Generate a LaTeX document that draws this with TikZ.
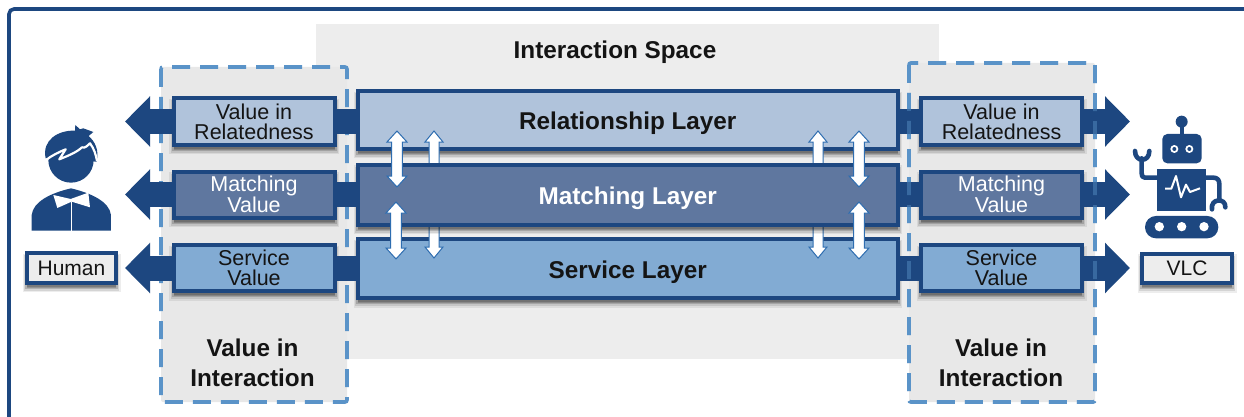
\documentclass[tikz,border=0pt]{standalone}
\usepackage{fontspec}
\setmainfont{Liberation Sans}
\usetikzlibrary{shadows,arrows.meta}
\definecolor{navy}{HTML}{1D4780}
\definecolor{dashblue}{HTML}{5A93C8}
\definecolor{lrel}{HTML}{B0C3DB}
\definecolor{lmat}{HTML}{5F779F}
\definecolor{lser}{HTML}{82ABD3}
\definecolor{spacegrey}{HTML}{EDEDED}
\definecolor{valgrey}{HTML}{E8E8E8}
\definecolor{arrowedge}{HTML}{2E6DB0}
\definecolor{inktext}{HTML}{141414}
\tikzset{
  softshadow/.style={
    general shadow={shadow xshift=0pt,shadow yshift=-5pt,draw=black,fill=black,line width=9pt,opacity=.07},
    general shadow={shadow xshift=0pt,shadow yshift=-5pt,draw=black,fill=black,line width=6pt,opacity=.10},
    general shadow={shadow xshift=0pt,shadow yshift=-4pt,draw=black,fill=black,line width=4pt,opacity=.16}},
  boxbase/.style={draw=navy,line width=4pt,inner sep=0pt,outer sep=0pt,align=center,softshadow,text=inktext},
  valbox/.style={boxbase,minimum width=161pt,minimum height=46pt,font=\fontsize{21.5}{20}\selectfont},
  layerbox/.style={boxbase,minimum width=539.5pt,text height=25pt,text depth=5.5pt,font=\fontsize{24.3}{28}\selectfont\bfseries},
  agentbox/.style={boxbase,fill=spacegrey,minimum height=29.5pt,font=\fontsize{21}{24}\selectfont},
  headline/.style={inner sep=0pt,align=center,text=inktext,font=\fontsize{24.3}{30}\selectfont\bfseries},
  valframe/.style={draw=dashblue,fill=valgrey,line width=3.6pt,dash pattern=on 18pt off 10pt,rounded corners=2pt},
  blockarrow/.style={navy,line width=25pt,-{Triangle[length=25pt,width=49pt]}},
  blockbar/.style={navy,line width=25pt},
  flowarrow/.style={draw=arrowedge,fill=white,line width=1pt,line join=miter},
  iconink/.style={fill=navy,draw=none},
  iconline/.style={draw=navy,line width=4.6pt,line cap=round,line join=round},
  iconcut/.style={draw=white,line join=round}
}
% double-headed flow arrow: x, top tip, bottom tip
\newcommand{\flowboth}[3]{\draw[flowarrow] (#1,#2) -- ++(10,11) -- ++(-4.7,0) -- (#1+5.3,#3-11) -- ++(4.7,0) -- (#1,#3) -- (#1-10,#3-11) -- ++(4.7,0) -- (#1-5.3,#2+11) -- ++(-4.7,0) -- cycle;}
% one visible head pointing up: x, tip, hidden end
\newcommand{\flowup}[3]{\draw[flowarrow] (#1,#2) -- ++(9,11) -- ++(-4,0) -- (#1+5,#3) -- (#1-5,#3) -- (#1-5,#2+11) -- ++(-4,0) -- cycle;}
% one visible head pointing down: x, tip, hidden end
\newcommand{\flowdown}[3]{\draw[flowarrow] (#1,#2) -- ++(9,-11) -- ++(-4,0) -- (#1+5,#3) -- (#1-5,#3) -- (#1-5,#2-11) -- ++(-4,0) -- cycle;}
\begin{document}
\begin{tikzpicture}[x=1pt,y=-1pt]
\useasboundingbox (0,0) rectangle (1244,417);
\fill[white] (0,0) rectangle (1244,417);
% outer frame
\draw[navy,line width=3.6pt,rounded corners=5pt] (9,418) -- (9,9) -- (1245,9);
% backgrounds
\fill[spacegrey] (316,24) rectangle (939,359);
\draw[valframe] (161,67) rectangle (347,402);
\draw[valframe] (909,63) rectangle (1095,402);
\node[headline] (spacetitle) at (615,52) {Interaction Space};
\node[headline] (valleft) at (252.5,363) {Value in\\Interaction};
\node[headline] (valright) at (1001,363) {Value in\\Interaction};
% end coordinates of the block arrows
\coordinate (tipL1) at (125,121.5);
\coordinate (tipL2) at (125,194.5);
\coordinate (tipL3) at (125,268);
\coordinate (tipR1) at (1130,121.5);
\coordinate (tipR2) at (1130,194.5);
\coordinate (tipR3) at (1130,268);
% layers
\node[layerbox,fill=lrel,minimum height=57.4pt] (relL) at (627.75,120) {Relationship Layer};
\node[layerbox,fill=lser,minimum height=58.7pt] (serL) at (627.75,268.7) {Service Layer};
\flowup{434}{131}{166}
\flowdown{434}{258}{224}
\flowup{818}{131}{166}
\flowdown{818}{258}{224}
\node[layerbox,fill=lmat,text=white,minimum height=60pt] (matL) at (627.75,194.7) {Matching Layer};
\flowboth{397}{131}{187}
\flowboth{396}{202}{259}
\flowboth{859}{131}{187}
\flowboth{859}{202}{259}
% value boxes
\node[valbox,fill=lrel] (valL1) at (254,121.5) {Value in\\Relatedness};
\node[valbox,fill=lmat,text=white] (valL2) at (254,194.5) {Matching\\Value};
\node[valbox,fill=lser] (valL3) at (254,268) {Service\\Value};
\node[valbox,fill=lrel] (valR1) at (1001.5,121.5) {Value in\\Relatedness};
\node[valbox,fill=lmat,text=white] (valR2) at (1001.5,194.5) {Matching\\Value};
\node[valbox,fill=lser] (valR3) at (1001.5,268) {Service\\Value};
% agents' labels
\node[agentbox,minimum width=89pt] (human) at (71.5,268) {Human};
\node[agentbox,minimum width=90pt] (vlc) at (1187,268.5) {VLC};
% connectors
\draw[blockbar] (relL.west |- valL1.east) -- (valL1.east);
\draw[blockbar] (matL.west |- valL2.east) -- (valL2.east);
\draw[blockbar] (serL.west |- valL3.east) -- (valL3.east);
\draw[blockbar] (relL.east |- valR1.west) -- (valR1.west);
\draw[blockbar] (matL.east |- valR2.west) -- (valR2.west);
\draw[blockbar] (serL.east |- valR3.west) -- (valR3.west);
\draw[blockarrow] (valL1.west) -- (tipL1);
\draw[blockarrow] (valL2.west) -- (tipL2);
\draw[blockarrow] (valL3.west) -- (tipL3);
\draw[blockarrow] (valR1.east) -- (tipR1);
\draw[blockarrow] (valR2.east) -- (tipR2);
\draw[blockarrow] (valR3.east) -- (tipR3);
% the right-hand dashes show faintly through the connectors
\draw[valframe,fill=none,draw opacity=.45] (909,63) rectangle (1095,402);
% human icon
\begin{scope}[shift={(0,60)},x=.3333pt,y=-.3333pt]
  \fill[iconink] (213,300) circle[radius=68];
  \fill[iconink] (137,295) .. controls (125,240) and (175,210) .. (225,212) -- (226,195) -- (240,208) -- (250,205) -- (280,216) -- (266,228) .. controls (285,245) and (298,270) .. (290,305) -- cycle;
  \draw[iconcut,line width=2.2pt] (138,300) .. controls (155,287) and (175,277) .. (197,268) -- (178,298) .. controls (205,287) and (230,277) .. (246,262) .. controls (256,266) and (264,255) .. (270,250) .. controls (282,265) and (288,285) .. (291,303);
  \fill[iconink] (95,512) -- (95,465) .. controls (100,425) and (150,400) .. (213,385) .. controls (275,400) and (328,425) .. (333,465) -- (333,512) -- cycle;
  \draw[iconcut,line width=1.3pt] (215,425) -- (215,515);
  \fill[white] (160,405) -- (212,417) -- (265,398) -- (270,442) -- (215,425) -- (172,444) -- cycle;
\end{scope}
% robot icon
\begin{scope}[shift={(1080,90)},x=.3333pt,y=-.3333pt]
  \fill[iconink] (305,95) circle[radius=18];
  \fill[iconink] (299,100) rectangle (311,140);
  \fill[iconink,rounded corners=5pt] (247,132) rectangle (365,220);
  \foreach \ex in {283,328}{
    \fill[white] (\ex,177) circle[radius=12];
    \fill[iconink] (\ex,177) circle[radius=6];
  }
  \fill[iconink] (232,237) rectangle (378,362);
  \draw[iconline] (232,263) -- (195,263) .. controls (187,263) and (185,258) .. (185,250) -- (185,205);
  \draw[iconline] (165,183) .. controls (165,218) and (208,218) .. (208,183);
  \draw[iconline] (378,263) -- (400,263) .. controls (412,263) and (418,270) .. (418,282) -- (418,328);
  \draw[iconline] (396,358) .. controls (390,325) and (438,322) .. (436,352);
  \fill[iconink,rounded corners=11pt] (195,378) rectangle (415,445);
  \foreach \wx in {238,305,372}{\fill[white] (\wx,410) circle[radius=14];}
  \draw[iconcut,line width=2pt] (255,296) -- (274,296) -- (288,258) -- (303,322) -- (318,284) -- (330,306) -- (360,295);
\end{scope}
\end{tikzpicture}
\end{document}
